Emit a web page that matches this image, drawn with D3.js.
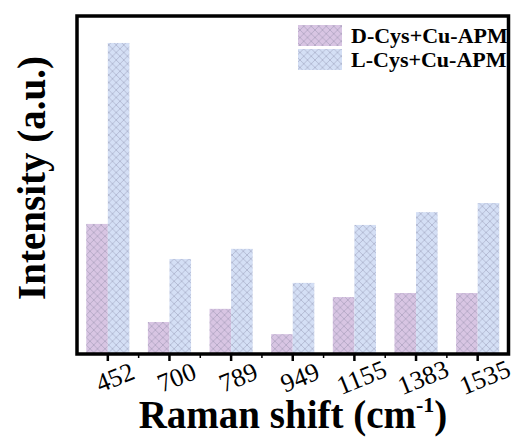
<!DOCTYPE html>
<html>
<head>
<meta charset="utf-8">
<script src="https://cdn.jsdelivr.net/npm/d3@7"></script>
<style>
  body { margin: 0; background: #fff; }
  svg { display: block; font-family: "Liberation Serif", "Times New Roman", serif; }
</style>
</head>
<body>
<svg></svg>
<script>
// Data (arbitrary intensity units, 0-1000 = full frame)
const shifts = ["452", "700", "789", "949", "1155", "1383", "1535"];
const dCys = [383, 92, 131, 56, 166, 178, 178];
const lCys = [920, 279, 309, 208, 380, 418, 445];
const seriesNames = ["D-Cys+Cu-APM", "L-Cys+Cu-APM"];
const seriesColors = ["#d8c5e3", "#d4dff5"];

const W = 519, H = 437;
const frame = { left: 77, right: 508.5, top: 16, bottom: 354 };

const svg = d3.select("svg").attr("width", W).attr("height", H);

// Cross-hatched fills
const defs = svg.append("defs");
seriesColors.forEach((c, i) => {
  const p = defs.append("pattern")
    .attr("id", "hatch" + i)
    .attr("patternUnits", "userSpaceOnUse")
    .attr("width", 7.5).attr("height", 7.5);
  p.append("rect").attr("width", 7.5).attr("height", 7.5).attr("fill", c);
  p.append("path")
    .attr("d", "M0,0L7.5,7.5M7.5,0L0,7.5")
    .attr("stroke", "rgba(120,120,150,0.5)")
    .attr("stroke-width", 0.7);
});

const x = d3.scaleBand()
  .domain(shifts)
  .range([frame.left, frame.right])
  .paddingInner(0.3)
  .paddingOuter(0.15);

const xSub = d3.scaleBand()
  .domain([0, 1])
  .range([0, x.bandwidth()]);

const y = d3.scaleLinear()
  .domain([0, 1000])
  .range([frame.bottom - 1, frame.top]);

const rows = shifts.map((s, i) => ({ s, vals: [dCys[i], lCys[i]] }));

// Bars
const groups = svg.selectAll(".grp")
  .data(rows)
  .enter()
  .append("g")
  .attr("transform", d => `translate(${x(d.s)},0)`);

groups.selectAll("rect")
  .data(d => d.vals.map((v, k) => ({ v, k })))
  .enter()
  .append("rect")
  .attr("x", d => xSub(d.k))
  .attr("y", d => y(d.v))
  .attr("width", xSub.bandwidth())
  .attr("height", d => y(0) - y(d.v))
  .attr("fill", d => `url(#hatch${d.k})`);

// Frame
svg.append("rect")
  .attr("x", frame.left)
  .attr("y", frame.top)
  .attr("width", frame.right - frame.left)
  .attr("height", frame.bottom - frame.top)
  .attr("fill", "none")
  .attr("stroke", "#000")
  .attr("stroke-width", 3.5);

// Major ticks
const axis = svg.append("g").attr("transform", `translate(0,${frame.bottom})`);
axis.call(d3.axisBottom(x).tickSize(7).tickFormat(""))
  .call(g => g.select(".domain").remove())
  .call(g => g.selectAll("line").attr("stroke", "#000").attr("stroke-width", 2.5));

// Minor ticks between groups
const minors = shifts.slice(1).map(s => x(s) - x.step() * x.paddingInner() / 2);
svg.selectAll(".minor")
  .data(minors)
  .enter()
  .append("line")
  .attr("x1", d => d).attr("x2", d => d)
  .attr("y1", frame.bottom).attr("y2", frame.bottom + 4)
  .attr("stroke", "#000")
  .attr("stroke-width", 1.5);

// Rotated tick labels
svg.selectAll(".tl")
  .data(shifts)
  .enter()
  .append("text")
  .attr("transform", d => `translate(${x(d) + x.bandwidth() / 2 + 7},377) rotate(-22)`)
  .attr("text-anchor", "middle")
  .attr("dy", "0.35em")
  .attr("font-size", 26)
  .attr("fill", "#000")
  .text(d => d);

// Axis titles
const xt = svg.append("text")
  .attr("x", 293)
  .attr("y", 428)
  .attr("text-anchor", "middle")
  .attr("font-size", 39)
  .attr("font-weight", "bold");
xt.append("tspan").text("Raman shift (cm");
xt.append("tspan").attr("font-size", 22).attr("dy", -16).text("-1");
xt.append("tspan").attr("dy", 16).text(")");

svg.append("text")
  .attr("transform", `translate(45,178) rotate(-90)`)
  .attr("text-anchor", "middle")
  .attr("font-size", 39)
  .attr("font-weight", "bold")
  .text("Intensity (a.u.)");

// Legend
const legend = svg.append("g");
seriesNames.forEach((n, i) => {
  legend.append("rect")
    .attr("x", 298).attr("y", 25 + i * 24)
    .attr("width", 44).attr("height", 21)
    .attr("fill", `url(#hatch${i})`);
  legend.append("text")
    .attr("x", 351).attr("y", 43 + i * 24)
    .attr("font-size", 22)
    .attr("font-weight", "bold")
    .text(n);
});
</script>
</body>
</html>
